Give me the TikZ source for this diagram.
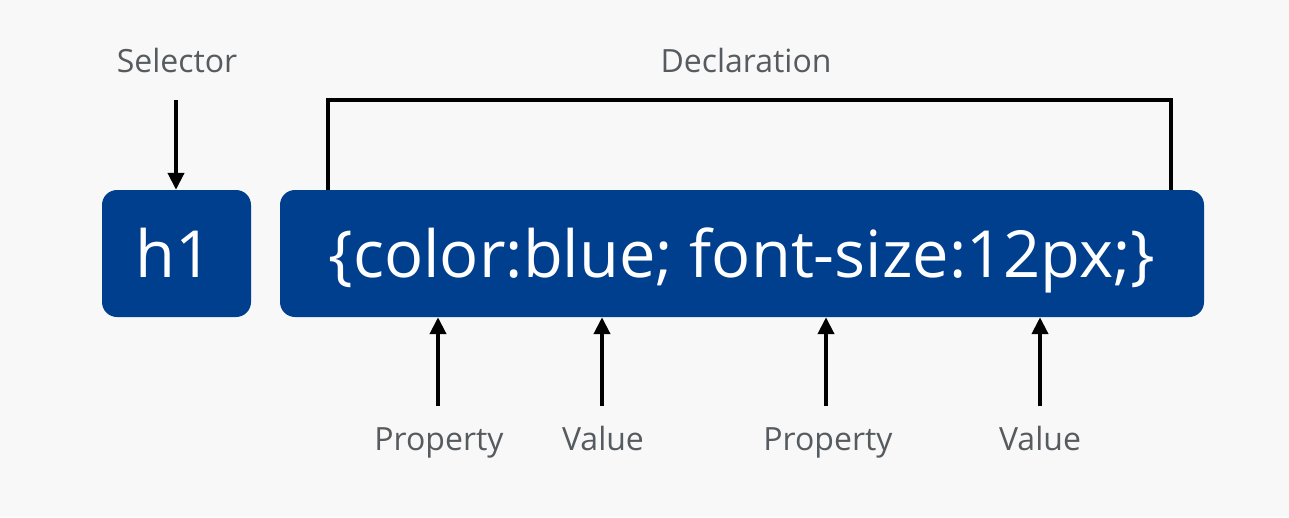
\documentclass[tikz,border=0pt]{standalone}
\usepackage{fontspec}
\setmainfont{Open Sans}
\usetikzlibrary{arrows.meta}
\definecolor{bg}{HTML}{F8F8F8}
\definecolor{cssblue}{HTML}{003E8E}
\definecolor{labelgray}{HTML}{555B5F}
\begin{document}
\begin{tikzpicture}[x=1pt,y=-1pt,
  codebox/.style={fill=cssblue, rounded corners=15pt, inner sep=0pt},
  codetext/.style={text=white, font=\fontsize{65}{70}\selectfont, inner sep=0pt, anchor=base},
  caption/.style={text=labelgray, font=\fontsize{32}{36}\selectfont, inner sep=0pt, anchor=base},
  pointer/.style={line width=4pt, -{Triangle[width=16pt,length=17pt]}},
  bracket/.style={line width=4pt}]
  \fill[bg] (0,0) rectangle (1289,517);
  \useasboundingbox (0,0) rectangle (1289,517);

  % selector and declaration boxes
  \node[codebox, minimum width=149pt, minimum height=127pt] (sel) at (176.5,253.5) {};
  \node[codebox, minimum width=924pt, minimum height=127pt] (decl) at (742,253.5) {};
  \node[codetext] (seltext) at (174,277) {h1};
  \node[codetext] (decltext) at (742,277) {\{color:blue; font-size:12px;\}};

  % captions
  \node[caption] (tsel) at (177,72) {Selector};
  \node[caption] (tdecl) at (746,72) {Declaration};
  \node[caption] (p1) at (439,450) {Property};
  \node[caption] (v1) at (603,450) {Value};
  \node[caption] (p2) at (828,450) {Property};
  \node[caption] (v2) at (1040,450) {Value};

  % selector pointer
  \coordinate (selstart) at (176,100);
  \draw[pointer] (selstart) -- (sel.north -| selstart);

  % declaration bracket
  \coordinate (bl) at (328,100);
  \coordinate (br) at (1171,100);
  \draw[bracket] (decl.north -| bl) -- (bl) -- (br) -- (decl.north -| br);

  % property / value pointers
  \foreach \nm/\xx in {a/438, b/602, c/826, d/1040}{
    \coordinate (\nm) at (\xx,406);
    \draw[pointer] (\nm) -- (decl.south -| \nm);
  }
\end{tikzpicture}
\end{document}
